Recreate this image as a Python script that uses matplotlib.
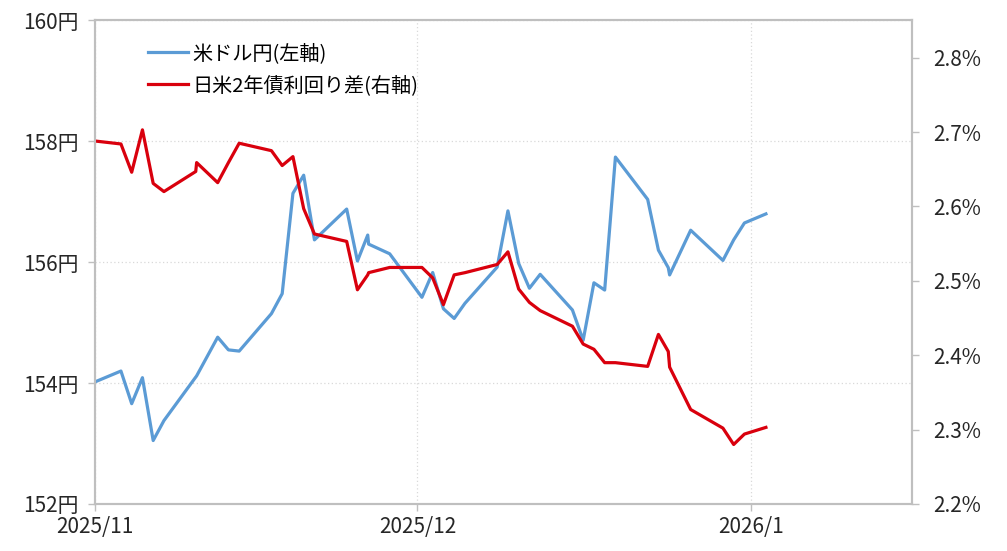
import pandas as pd
import matplotlib
matplotlib.use("Agg")
import matplotlib.pyplot as plt
from matplotlib.ticker import FuncFormatter

plt.rcParams['font.family'] = ['Noto Sans CJK JP', 'DejaVu Sans']

# 日付 (時刻付き: 点が日の中ほどに置かれている)
dates = [
    "2025-11-01 00:00", "2025-11-03 10:00", "2025-11-04 10:00", "2025-11-05 10:00",
    "2025-11-06 10:00", "2025-11-07 10:00", "2025-11-10 09:00", "2025-11-10 11:00",
    "2025-11-12 10:00", "2025-11-13 10:00", "2025-11-14 10:00", "2025-11-17 10:00",
    "2025-11-18 10:00", "2025-11-19 10:00", "2025-11-20 10:00", "2025-11-21 10:00",
    "2025-11-24 10:00", "2025-11-25 10:00", "2025-11-26 09:00", "2025-11-26 11:00",
    "2025-11-28 10:00", "2025-12-01 10:00", "2025-12-02 10:00", "2025-12-03 10:00",
    "2025-12-04 10:00", "2025-12-05 10:00", "2025-12-08 10:00", "2025-12-09 10:00",
    "2025-12-10 10:00", "2025-12-11 10:00", "2025-12-12 10:00", "2025-12-15 10:00",
    "2025-12-16 10:00", "2025-12-17 10:00", "2025-12-18 10:00", "2025-12-19 10:00",
    "2025-12-22 10:00", "2025-12-23 10:00", "2025-12-24 08:00", "2025-12-24 11:00",
    "2025-12-26 10:00", "2025-12-29 10:00", "2025-12-30 10:00", "2025-12-31 10:00",
    "2026-01-02 10:00",
]

# 米ドル円 (左軸, 円)
usdjpy = [
    154.02, 154.20, 153.66, 154.09, 153.05, 153.38, 154.10, 154.12,
    154.76, 154.55, 154.53, 155.15, 155.48, 157.14, 157.44, 156.37,
    156.88, 156.02, 156.45, 156.30, 156.14, 155.42, 155.83, 155.23,
    155.07, 155.32, 155.92, 156.85, 155.98, 155.57, 155.80, 155.21,
    154.71, 155.66, 155.54, 157.74, 157.04, 156.20, 155.91, 155.79,
    156.53, 156.03, 156.37, 156.65, 156.80,
]

# 日米2年債利回り差 (右軸, %)
spread = [
    2.688, 2.684, 2.646, 2.703, 2.631, 2.620, 2.647, 2.659,
    2.632, 2.659, 2.685, 2.675, 2.655, 2.667, 2.597, 2.563,
    2.553, 2.488, 2.508, 2.511, 2.518, 2.518, 2.504, 2.468,
    2.508, 2.511, 2.522, 2.539, 2.489, 2.471, 2.460, 2.439,
    2.415, 2.408, 2.390, 2.390, 2.385, 2.428, 2.405, 2.384,
    2.327, 2.302, 2.280, 2.294, 2.303,
]

x_ticks = ["2025-11-01", "2025-12-01", "2026-01-01"]
x_labels = ["2025/11", "2025/12", "2026/1"]
left_ticks = [152, 154, 156, 158, 160]
right_ticks = [2.2, 2.3, 2.4, 2.5, 2.6, 2.7, 2.8]

x = pd.to_datetime(dates)

fig = plt.figure(figsize=(10.07, 5.51), dpi=100)
ax = fig.add_axes([0.0943, 0.0853, 0.8113, 0.8775])
ax2 = ax.twinx()

blue = '#5B9BD5'
red = '#D9000D'
gray = '#BFBFBF'

l1, = ax.plot(x, usdjpy, color=blue, lw=2.3, label='米ドル円(左軸)')
l2, = ax2.plot(x, spread, color=red, lw=2.3, label='日米2年債利回り差(右軸)')

ax.set_xlim(pd.Timestamp("2025-11-01"), pd.Timestamp("2026-01-16"))
ax.set_ylim(152, 160)
ax2.set_ylim(2.2, 2.85)

ax.set_xticks(pd.to_datetime(x_ticks))
ax.set_xticklabels(x_labels)
ax.set_yticks(left_ticks)
ax.yaxis.set_major_formatter(FuncFormatter(lambda v, p: f"{v:.0f}円"))
ax2.set_yticks(right_ticks)
ax2.yaxis.set_major_formatter(FuncFormatter(lambda v, p: f"{v:.1f}%"))

ax.grid(True, color='#D9D9D9', ls=(0, (1, 2)), lw=0.9)
ax.set_axisbelow(True)

for a in (ax, ax2):
    for s in a.spines.values():
        s.set_color(gray)
        s.set_linewidth(1.5)
    a.tick_params(colors=gray, labelcolor='#262626', labelsize=15, length=5, width=1)
ax.tick_params(axis='x', pad=4)
ax.tick_params(axis='y', pad=7)
ax2.tick_params(axis='y', pad=10)

ax2.legend(handles=[l1, l2], loc='upper left', bbox_to_anchor=(0.043, 0.99),
           frameon=False, fontsize=14.5, handlelength=2.0, handletextpad=0.2,
           labelspacing=0.55)

fig.savefig('out.png', dpi=100)
